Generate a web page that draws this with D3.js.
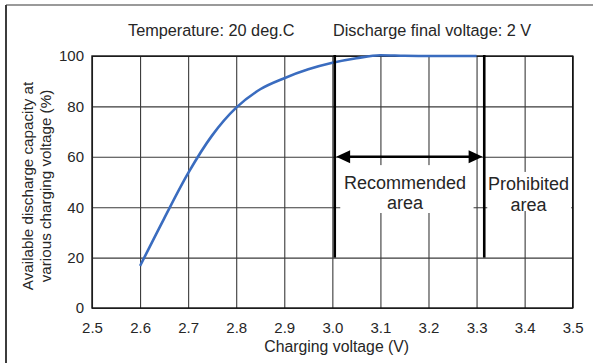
<!DOCTYPE html>
<html>
<head>
<meta charset="utf-8">
<script src="https://cdn.jsdelivr.net/npm/d3@7"></script>
<style>
  html, body { margin: 0; padding: 0; background: #fff; }
  svg { display: block; font-family: "Liberation Sans", Arial, sans-serif; }
</style>
</head>
<body>
<svg id="chart" width="593" height="363"></svg>
<script>
// Charging voltage (V) and available discharge capacity (%)
const voltage  = [2.60, 2.65, 2.70, 2.75, 2.80, 2.85, 2.90, 2.95, 3.00, 3.05, 3.10, 3.15, 3.20, 3.25, 3.30];
const capacity = [16.7, 35.5, 53.5, 68.5, 79.5, 86.8, 91.2, 94.7, 97.3, 99.1, 100.3, 100.1, 100, 100, 100];

// Axis ticks
const xTicks = [2.5, 2.6, 2.7, 2.8, 2.9, 3.0, 3.1, 3.2, 3.3, 3.4, 3.5];
const yTicks = [0, 20, 40, 60, 80, 100];

// Boundary voltages of the recommended / prohibited regions
const recommendedLimit = 3.005;
const prohibitedLimit  = 3.316;
const markerLow  = 20;   // bottom of the boundary lines (%)
const markerHigh = 100;  // top of the boundary lines (%)
const arrowLevel = 60;   // height of the double arrow (%)

const headerLabels = ["Temperature: 20 deg.C", "Discharge final voltage: 2 V"];
const regionLabels = [["Recommended", "area"], ["Prohibited", "area"]];

(function draw() {
  const svg = d3.select("#chart");
  const plotLeft = 92, plotRight = 572.7, plotTop = 56, plotBottom = 308;

  const x = d3.scaleLinear().domain([2.5, 3.5]).range([plotLeft, plotRight]);
  const y = d3.scaleLinear().domain([0, 100]).range([plotBottom, plotTop]);

  const textColor = "#262626";
  const gridColor = "#3a3a3a";

  // Outer panel edge (top and left)
  svg.append("path")
    .attr("d", "M593,5 H6")
    .attr("stroke", "#9a9a9a").attr("stroke-width", 2).attr("fill", "none");
  svg.append("path")
    .attr("d", "M6,5 V363")
    .attr("stroke", "#3c3c3c").attr("stroke-width", 2).attr("fill", "none");

  // Header texts
  svg.append("text").attr("x", 128).attr("y", 36)
    .attr("font-size", 16.3).attr("fill", textColor).text(headerLabels[0]);
  svg.append("text").attr("x", 333).attr("y", 36)
    .attr("font-size", 16.3).attr("fill", textColor).text(headerLabels[1]);

  // Axes with full-length ticks serving as the grid
  const xAxis = d3.axisBottom(x).tickValues(xTicks).tickFormat(d3.format(".1f"))
    .tickSizeInner(-(plotBottom - plotTop)).tickSizeOuter(0).tickPadding(14);
  const yAxis = d3.axisLeft(y).tickValues(yTicks).tickFormat(d3.format("d"))
    .tickSizeInner(-(plotRight - plotLeft)).tickSizeOuter(0).tickPadding(8);

  const gx = svg.append("g").attr("transform", `translate(0,${plotBottom})`).call(xAxis);
  const gy = svg.append("g").attr("transform", `translate(${plotLeft},0)`).call(yAxis);
  [gx, gy].forEach(g => {
    g.select(".domain").remove();
    g.selectAll(".tick line").attr("stroke", gridColor).attr("stroke-width", 1.1);
    g.selectAll(".tick text").attr("fill", textColor).attr("font-size", 15)
      .attr("font-family", "Liberation Sans, Arial, sans-serif");
  });

  // Plot frame
  svg.append("rect")
    .attr("x", plotLeft).attr("y", plotTop)
    .attr("width", plotRight - plotLeft).attr("height", plotBottom - plotTop)
    .attr("fill", "none").attr("stroke", "#111").attr("stroke-width", 1.4);

  // White backgrounds behind the region labels
  const xr = x(recommendedLimit), xp = x(prohibitedLimit);
  svg.append("rect")
    .attr("x", xr + 5.5).attr("y", y(56.7))
    .attr("width", (x(3.3) - 3) - (xr + 5.5)).attr("height", y(37.7) - y(56.7))
    .attr("fill", "#fff");
  svg.append("rect")
    .attr("x", xp + 3).attr("y", y(54))
    .attr("width", (plotRight - 1.5) - (xp + 3)).attr("height", y(38.5) - y(54))
    .attr("fill", "#fff");

  // Capacity curve
  const line = d3.line()
    .x((d, i) => x(voltage[i]))
    .y(d => y(d))
    .curve(d3.curveMonotoneX);
  svg.append("path")
    .datum(capacity)
    .attr("d", line)
    .attr("fill", "none")
    .attr("stroke", "#3a6cbf")
    .attr("stroke-width", 2.6);

  // Region boundary lines
  [recommendedLimit, prohibitedLimit].forEach(v => {
    svg.append("line")
      .attr("x1", x(v)).attr("x2", x(v))
      .attr("y1", y(markerHigh) - 1).attr("y2", y(markerLow))
      .attr("stroke", "#000").attr("stroke-width", 2.6);
  });

  // Double-headed arrow spanning the recommended range
  const ay = y(arrowLevel);
  const ax1 = xr + 1.4, ax2 = xp - 1.6;
  const headLen = 14, headHalf = 6.5;
  svg.append("line")
    .attr("x1", ax1 + headLen - 1).attr("x2", ax2 - headLen + 1)
    .attr("y1", ay).attr("y2", ay)
    .attr("stroke", "#000").attr("stroke-width", 2.6);
  svg.append("path")
    .attr("d", `M${ax1},${ay} L${ax1 + headLen},${ay - headHalf} L${ax1 + headLen},${ay + headHalf} Z`)
    .attr("fill", "#000");
  svg.append("path")
    .attr("d", `M${ax2},${ay} L${ax2 - headLen},${ay - headHalf} L${ax2 - headLen},${ay + headHalf} Z`)
    .attr("fill", "#000");

  // Region labels, one text element per line
  const labelCenters = [405, 528.5];
  const labelBaselines = [[189, 208.5], [189.5, 210.5]];
  regionLabels.forEach((lines, i) => {
    lines.forEach((s, j) => {
      svg.append("text")
        .attr("x", labelCenters[i]).attr("y", labelBaselines[i][j])
        .attr("text-anchor", "middle")
        .attr("font-size", 18).attr("fill", textColor)
        .text(s);
    });
  });

  // Axis titles
  svg.append("text")
    .attr("x", 336.7).attr("y", 352)
    .attr("text-anchor", "middle").attr("font-size", 15.8).attr("fill", textColor)
    .text("Charging voltage (V)");

  const yTitle = svg.append("text")
    .attr("transform", "translate(0,186) rotate(-90)")
    .attr("text-anchor", "middle").attr("font-size", 15.2).attr("fill", textColor);
  yTitle.append("tspan").attr("x", 0).attr("y", 33.3).text("Available discharge capacity at");
  yTitle.append("tspan").attr("x", 0).attr("y", 50.5).text("various charging voltage (%)");
})();
</script>
</body>
</html>
